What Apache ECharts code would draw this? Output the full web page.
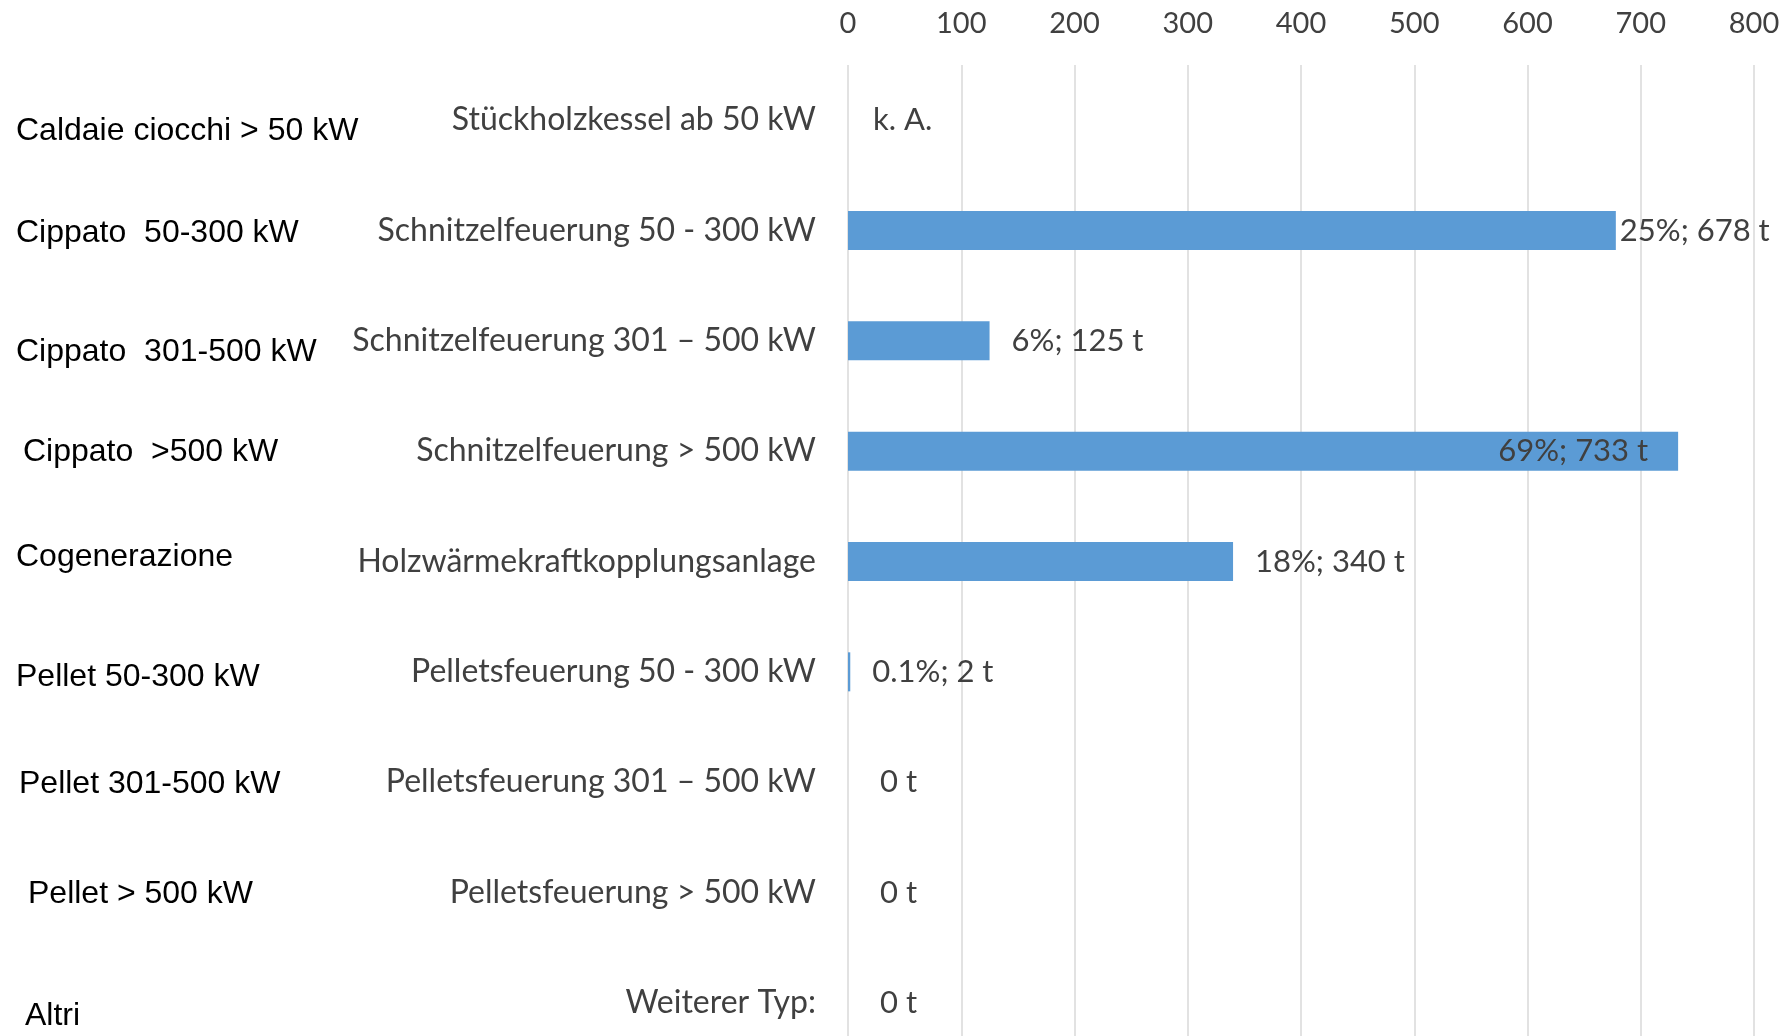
<!DOCTYPE html>
<html>
<head>
<meta charset="utf-8">
<script src="https://cdn.jsdelivr.net/npm/echarts@6/dist/echarts.min.js"></script>
<style>
  html, body { margin: 0; padding: 0; background: #ffffff; }
  #chart { width: 1789px; height: 1036px; }
</style>
</head>
<body>
<div id="chart"></div>
<script>
// Boiler types (German labels, drawn on the axis next to the bars)
const typesDe = [
  'Stückholzkessel ab 50 kW',
  'Schnitzelfeuerung 50 - 300 kW',
  'Schnitzelfeuerung 301 \u2013 500 kW',
  'Schnitzelfeuerung > 500 kW',
  'Holzwärmekraftkopplungsanlage',
  'Pelletsfeuerung 50 - 300 kW',
  'Pelletsfeuerung 301 \u2013 500 kW',
  'Pelletsfeuerung > 500 kW',
  'Weiterer Typ:'
];

// Italian translations, shown in the far-left column
const typesIt = [
  'Caldaie ciocchi > 50 kW',
  'Cippato  50-300 kW',
  'Cippato  301-500 kW',
  'Cippato  >500 kW',
  'Cogenerazione',
  'Pellet 50-300 kW',
  'Pellet 301-500 kW',
  'Pellet > 500 kW',
  'Altri'
];

// Tonnes per type (null = no data available)
const tonnes = [null, 678, 125, 733, 340, 2, 0, 0, 0];

// Share of each type, as printed in the value label
const shares = ['', '25%', '6%', '69%', '18%', '0.1%', '', '', ''];

// Tick values of the value axis
const xTicks = [0, 100, 200, 300, 400, 500, 600, 700, 800];

// Small offsets [dx, dy] for the Italian column so it sits as typeset
const itOffsets = [[0, 11], [0, 3], [-2, 11], [7, 1], [0, -4], [0, 5], [3, 2], [12, 2], [9, 13]];

const gridLeft = 848;
const itColumnX = 16;
const deFont = 'Lato';
const itFont = '"Liberation Sans", Arial, sans-serif';
const textGrey = '#404040';

function labelText(i) {
  const v = tonnes[i];
  if (v === null) return 'k. A.';
  return shares[i] ? shares[i] + '; ' + v + ' t' : v + ' t';
}

const barData = tonnes.map(function (v, i) {
  const item = { value: v === null ? 0 : v };
  if (v !== null && v >= 700) {
    item.label = { position: 'insideRight', distance: 30 };
  } else if (v !== null && v >= 600) {
    item.label = { position: 'right', distance: 4 };
  } else if (v === null || v === 0) {
    item.label = { position: 'right', distance: v === null ? 25 : 32 };
  } else {
    item.label = { position: 'right', distance: 22 };
  }
  return item;
});

// One rich style per Italian row, carrying its nudge as padding
const itRich = {};
itOffsets.forEach(function (o, i) {
  itRich['r' + i] = {
    fontFamily: itFont,
    fontSize: 32,
    color: '#000000',
    padding: [Math.max(0, 2 * o[1]), 0, Math.max(0, -2 * o[1]), Math.max(0, o[0])]
  };
});

const chart = echarts.init(document.getElementById('chart'), null, { renderer: 'canvas' });

chart.setOption({
  animation: false,
  backgroundColor: '#ffffff',
  grid: {
    left: gridLeft,
    right: 35,
    top: 65,
    bottom: -22,
    containLabel: false,
    outerBoundsMode: 'none'
  },
  xAxis: {
    type: 'value',
    position: 'top',
    min: xTicks[0],
    max: xTicks[xTicks.length - 1],
    interval: xTicks[1] - xTicks[0],
    axisLine: { show: false },
    axisTick: { show: false },
    axisLabel: {
      margin: 27,
      fontFamily: deFont,
      fontSize: 29,
      color: textGrey
    },
    splitLine: { show: true, lineStyle: { color: '#d9d9d9', width: 1.5 } }
  },
  yAxis: [
    {
      type: 'category',
      position: 'left',
      inverse: true,
      data: typesDe,
      axisLine: { show: false },
      axisTick: { show: false },
      axisLabel: {
        margin: 32,
        fontFamily: deFont,
        fontSize: 32,
        color: textGrey
      }
    },
    {
      // Italian column: axis pushed to the left edge, labels drawn inside (to its right)
      type: 'category',
      position: 'left',
      offset: gridLeft - itColumnX,
      inverse: true,
      data: typesIt,
      axisLine: { show: false },
      axisTick: { show: false },
      splitLine: { show: false },
      axisLabel: {
        inside: true,
        margin: 0,
        align: 'left',
        fontFamily: itFont,
        fontSize: 32,
        color: '#000000',
        formatter: function (value, index) { return '{r' + index + '|' + value + '}'; },
        rich: itRich
      }
    }
  ],
  series: [
    {
      type: 'bar',
      yAxisIndex: 0,
      data: barData,
      barWidth: 39,
      itemStyle: { color: '#5b9bd5' },
      label: {
        show: true,
        fontFamily: deFont,
        fontSize: 31,
        color: textGrey,
        formatter: function (p) { return labelText(p.dataIndex); }
      }
    }
  ]
});
</script>
</body>
</html>
